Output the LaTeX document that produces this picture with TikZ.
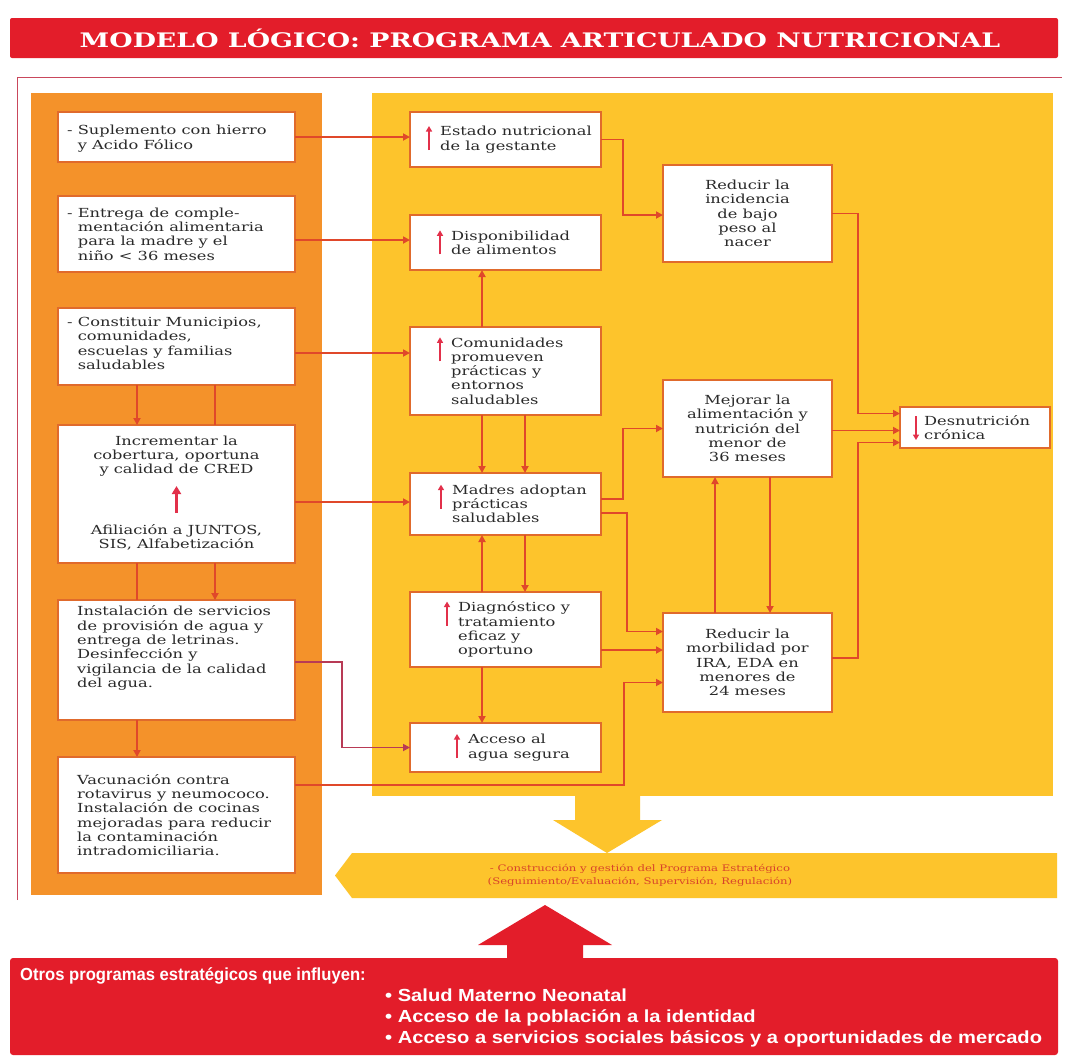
\documentclass[tikz,border=0pt]{standalone}
\usepackage{fontspec}
\setmainfont{DejaVu Serif}[FakeStretch=1.3]
\newfontfamily\titlefont{DejaVu Serif}[FakeStretch=1.34]
\newfontfamily\bottomfont{Liberation Sans}[FakeStretch=0.95]
\newfontfamily\bottomwide{Liberation Sans}[FakeStretch=1.15]
\usetikzlibrary{arrows.meta}
\definecolor{bannerred}{HTML}{E31D2A}
\definecolor{panelorange}{HTML}{F4922A}
\definecolor{panelyellow}{HTML}{FDC42C}
\definecolor{boxedge}{HTML}{E06A2C}
\definecolor{connc}{HTML}{E0482A}
\definecolor{connp}{HTML}{B83A55}
\definecolor{iconred}{HTML}{E2304A}
\definecolor{framec}{HTML}{C9475C}
\definecolor{txt}{HTML}{2A2A2A}
\definecolor{bandtxt}{HTML}{D8432A}
\tikzset{
  wbox/.style={draw=boxedge, line width=1.6pt, fill=white, inner sep=0pt, outer sep=0pt},
  btxt/.style={font=\fontsize{12.5}{14.3}\selectfont, text=txt, inner sep=0pt, align=left, anchor=west},
  ctxt/.style={font=\fontsize{12.5}{14.3}\selectfont, text=txt, inner sep=0pt, align=center},
  conn/.style={draw=connc, line width=1.8pt, -{Triangle[length=7pt,width=7pt]}},
  link/.style={draw=connc, line width=1.8pt},
  upicon/.style={draw=iconred, line width=1.5pt, -{Triangle[length=5.5pt,width=6pt]}},
  lbox/.style={wbox, minimum width=237},
  mbox/.style={wbox, minimum width=191},
  rbox/.style={wbox, minimum width=169},
}
\begin{document}
\begin{tikzpicture}[x=1pt,y=-1pt]
\useasboundingbox[fill=white] (0,0) rectangle (1066,1061);
% title
\fill[bannerred, rounded corners=2pt] (10,18) rectangle (1058,58);
\node[text=white, inner sep=0pt] (title) at (540,38)
  {\titlefont\bfseries\fontsize{20}{24}\selectfont MODELO LÓGICO: PROGRAMA ARTICULADO NUTRICIONAL};
% frame and panels
\draw[framec, line width=0.9pt] (17,900) -- (17,77) -- (1062,77);
\fill[panelorange] (31,93) rectangle (322,895);
\fill[panelyellow] (372,93) rectangle (1053,796);

% left boxes
\node[lbox, minimum height=50] (L1) at (176.5,137) {};
\node[btxt] (L1t) at ([xshift=9pt,yshift=-1.5pt]L1.west) {- Suplemento con hierro\\\phantom{- }y Acido Fólico};
\node[lbox, minimum height=76] (L2) at (176.5,234) {};
\node[btxt] (L2t) at ([xshift=9pt]L2.west) {- Entrega de comple-\\\phantom{- }mentación alimentaria\\\phantom{- }para la madre y el\\\phantom{- }niño < 36 meses};
\node[lbox, minimum height=77] (L3) at (176.5,346.5) {};
\node[btxt] (L3t) at ([xshift=9pt,yshift=3pt]L3.west) {- Constituir Municipios,\\\phantom{- }comunidades,\\\phantom{- }escuelas y familias\\\phantom{- }saludables};
\node[lbox, minimum height=138] (L4) at (176.5,494) {};
\node[ctxt] (L4a) at ([yshift=38pt]L4.center) {Incrementar la\\cobertura, oportuna\\y calidad de CRED};
\node[ctxt] (L4b) at ([yshift=-43pt]L4.center) {Afiliación a JUNTOS,\\SIS, Alfabetización};
\draw[upicon, line width=2.4pt, -{Triangle[length=8pt,width=9pt]}] ([yshift=-19pt]L4.center) -- ([yshift=8pt]L4.center);
\node[lbox, minimum height=120] (L5) at (176.5,660) {};
\node[btxt] (L5t) at ([xshift=19pt,yshift=12pt]L5.west) {Instalación de servicios\\de provisión de agua y\\entrega de letrinas.\\Desinfección y\\vigilancia de la calidad\\del agua.};
\node[lbox, minimum height=116] (L6) at (176.5,815) {};
\node[btxt] (L6t) at ([xshift=19pt]L6.west) {Vacunación contra\\rotavirus y neumococo.\\Instalación de cocinas\\mejoradas para reducir\\la contaminación\\intradomiciliaria.};

% middle boxes
\node[mbox, minimum height=55] (M1) at (505.5,139.5) {};
\node[btxt] (M1t) at ([xshift=30pt]M1.west) {Estado nutricional\\de la gestante};
\node[mbox, minimum height=55] (M2) at (505.5,242.5) {};
\node[btxt] (M2t) at ([xshift=41pt]M2.west) {Disponibilidad\\de alimentos};
\node[mbox, minimum height=88] (M3) at (505.5,371) {};
\node[btxt] (M3t) at ([xshift=41pt]M3.west) {Comunidades\\promueven\\prácticas y\\entornos\\saludables};
\node[mbox, minimum height=62] (M4) at (505.5,504) {};
\node[btxt] (M4t) at ([xshift=42pt]M4.west) {Madres adoptan\\prácticas\\saludables};
\node[mbox, minimum height=75] (M5) at (505.5,629.5) {};
\node[btxt] (M5t) at ([xshift=48pt]M5.west) {Diagnóstico y\\tratamiento\\eficaz y\\oportuno};
\node[mbox, minimum height=49] (M6) at (505.5,747.5) {};
\node[btxt] (M6t) at ([xshift=58pt]M6.west) {Acceso al\\agua segura};
\foreach \m in {M1t,M2t,M3t,M4t,M5t,M6t}{
  \draw[upicon] ([xshift=-11pt,yshift=-24pt]\m.north west) -- ([xshift=-11pt,yshift=0pt]\m.north west);
}

% right boxes
\node[rbox, minimum height=97] (R1) at (747.5,213.5) {};
\node[ctxt] (R1t) at (R1.center) {Reducir la\\incidencia\\de bajo\\peso al\\nacer};
\node[rbox, minimum height=97] (R2) at (747.5,428.5) {};
\node[ctxt] (R2t) at (R2.center) {Mejorar la\\alimentación y\\nutrición del\\menor de\\36 meses};
\node[rbox, minimum height=99] (R3) at (747.5,662.5) {};
\node[ctxt] (R3t) at (R3.center) {Reducir la\\morbilidad por\\IRA, EDA en\\menores de\\24 meses};
\node[wbox, minimum width=150, minimum height=41] (D) at (975,427.5) {};
\node[btxt] (Dt) at ([xshift=24pt]D.west) {Desnutrición\\crónica};
\draw[upicon] ([xshift=-8pt,yshift=-1pt]Dt.north west) -- ([xshift=-8pt,yshift=-25pt]Dt.north west);

% connectors left -> middle
\draw[conn] (L1.east) -- (L1.east -| M1.west);
\draw[conn] ([yshift=-6pt]L2.east) -- ([yshift=-6pt]L2.east -| M2.west);
\draw[conn] ([yshift=-6.5pt]L3.east) -- ([yshift=-6.5pt]L3.east -| M3.west);
\draw[conn] ([yshift=-8pt]L4.east) -- ([yshift=-8pt]L4.east -| M4.west);
\draw[conn, draw=connp] ([yshift=-2pt]L5.east) -- ++(47,0) |- (M6.west);
\draw[conn] ([yshift=30pt]L6.east) -- ++(329,0) |- ([yshift=-20pt]R3.west);

% orange panel links
\draw[conn] ([xshift=-39.5pt]L3.south) -- ([xshift=-39.5pt]L4.north);
\draw[link] ([xshift=38.5pt]L3.south) -- ([xshift=38.5pt]L4.north);
\draw[link] ([xshift=-39.5pt]L4.south) -- ([xshift=-39.5pt]L5.north);
\draw[conn] ([xshift=38.5pt]L4.south) -- ([xshift=38.5pt]L5.north);
\draw[conn] ([xshift=-39.5pt]L5.south) -- ([xshift=-39.5pt]L6.north);

% middle column links
\draw[conn] ([xshift=-23.5pt]M3.north) -- ([xshift=-23.5pt]M2.south);
\draw[conn] ([xshift=-23.5pt]M3.south) -- ([xshift=-23.5pt]M4.north);
\draw[conn] ([xshift=19.5pt]M3.south) -- ([xshift=19.5pt]M4.north);
\draw[conn] ([xshift=-23.5pt]M5.north) -- ([xshift=-23.5pt]M4.south);
\draw[conn] ([xshift=19.5pt]M4.south) -- ([xshift=19.5pt]M5.north);
\draw[conn] ([xshift=-23.5pt]M5.south) -- ([xshift=-23.5pt]M6.north);

% middle -> right
\draw[conn] (M1.east) -- ++(22,0) |- ([yshift=-1.5pt]R1.west);
\draw[conn] ([yshift=5pt]M4.east) -- ++(22,0) |- (R2.west);
\draw[conn] ([yshift=-9pt]M4.east) -- ++(26,0) |- ([yshift=31pt]R3.west);
\draw[conn] ([yshift=-20.5pt]M5.east) -- ([yshift=-20.5pt]M5.east -| R3.west);

% right links
\draw[conn] ([xshift=-32.5pt]R3.north) -- ([xshift=-32.5pt]R2.south);
\draw[conn] ([xshift=22.5pt]R2.south) -- ([xshift=22.5pt]R3.north);
\draw[conn] (R1.east) -- ++(26,0) |- ([yshift=14pt]D.west);
\draw[conn] ([yshift=-2pt]R2.east) -- ([yshift=-2pt]R2.east -| D.west);
\draw[conn] ([yshift=4.5pt]R3.east) -- ++(26,0) |- ([yshift=-15pt]D.west);

% bottom yellow arrow and band
\fill[panelyellow] (575,796) -- (640,796) -- (640,820) -- (662,820) -- (607,853) -- (553,820) -- (575,820) -- cycle;
\fill[panelyellow] (352,853) -- (1057,853) -- (1057,898) -- (352,898) -- (335,875.5) -- cycle;
\node[text=bandtxt, align=center, inner sep=0pt, font=\fontsize{9}{13}\selectfont] (band) at (640,875.5)
  {- Construcción y gestión del Programa Estratégico\\(Seguimiento/Evaluación, Supervisión, Regulación)};

% red arrow and box
\fill[bannerred] (545,905) -- (612,945) -- (583,945) -- (583,962) -- (507,962) -- (507,945) -- (478,945) -- cycle;
\fill[bannerred, rounded corners=3pt] (10,958) rectangle (1058,1055);
\node[text=white, anchor=west, inner sep=0pt, font=\bottomfont\bfseries\fontsize{17.5}{21}\selectfont] (other) at (20,976) {Otros programas estratégicos que influyen:};
\node[text=white, anchor=north west, align=left, inner sep=0pt, font=\bottomwide\bfseries\fontsize{17.5}{21}\selectfont] (otherlist) at (385,989)
  {• Salud Materno Neonatal\\• Acceso de la población a la identidad\\• Acceso a servicios sociales básicos y a oportunidades de mercado};
\end{tikzpicture}
\end{document}
